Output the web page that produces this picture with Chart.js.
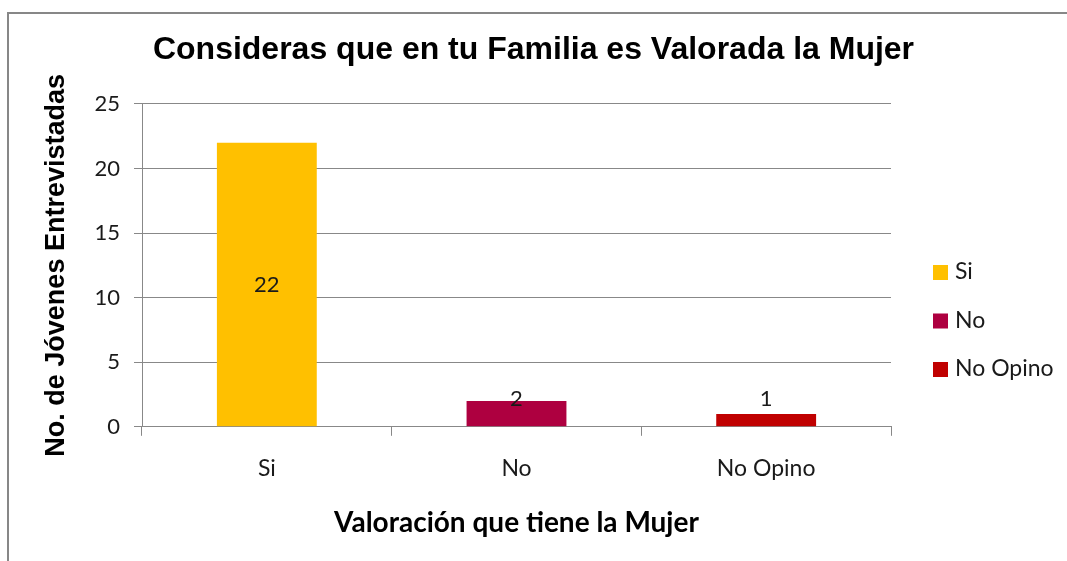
<!DOCTYPE html>
<html>
<head>
<meta charset="utf-8">
<script src="https://cdn.jsdelivr.net/npm/chart.js@4"></script>
<style>
  html, body { margin: 0; padding: 0; background: #fff; }
  #wrap { width: 1067px; height: 561px; }
</style>
</head>
<body>
<div id="wrap"><canvas id="grafico"></canvas></div>
<script>
// datos del grafico
const categorias = ['Si', 'No', 'No Opino'];
const valores = [22, 2, 1];
const colores = ['#FFC000', '#AE0040', '#C00000'];
const marcasY = [0, 5, 10, 15, 20, 25];

const fontTexto = "Lato, 'Open Sans', sans-serif";
const fontArial = "'Liberation Sans', Arial, sans-serif";

// marco gris del grafico
const marco = {
    id: 'marco',
    beforeDraw(chart) {
        const ctx = chart.ctx;
        ctx.save();
        ctx.strokeStyle = '#878787';
        ctx.lineWidth = 2;
        ctx.beginPath();
        ctx.moveTo(8, chart.height + 2);
        ctx.lineTo(8, 13);
        ctx.lineTo(chart.width + 2, 13);
        ctx.stroke();
        ctx.restore();
    }
};

// etiquetas de valor dentro de las barras
const etiquetas = {
    id: 'etiquetas',
    afterDatasetsDraw(chart) {
        const ctx = chart.ctx;
        const meta = chart.getDatasetMeta(0);
        ctx.save();
        ctx.font = '22px ' + fontTexto;
        ctx.fillStyle = '#1a1a1a';
        ctx.textAlign = 'center';
        ctx.textBaseline = 'middle';
        meta.data.forEach((bar, i) => {
            const centro = (bar.y + bar.base) / 2;
            const y = Math.min(centro, bar.base - 27);
            ctx.fillText(String(valores[i]), bar.x, y);
        });
        ctx.restore();
    }
};

// leyenda a la derecha, como caja del layout
const leyenda = {
    id: 'leyenda',
    beforeInit(chart) {
        const caja = {
            position: 'right',
            weight: 1000,
            fullSize: true,
            options: {},
            left: 0, top: 0, right: 0, bottom: 0, width: 0, height: 0,
            isHorizontal() { return false; },
            update(maxWidth, maxHeight) {
                this.width = 136;
                this.height = maxHeight;
            },
            draw() {
                const ctx = chart.ctx;
                const x = this.left + 42;
                ctx.save();
                ctx.font = '23px ' + fontTexto;
                ctx.textBaseline = 'middle';
                ctx.textAlign = 'left';
                categorias.forEach((cat, i) => {
                    const y = 272 + i * 48.5;
                    ctx.fillStyle = colores[i];
                    ctx.fillRect(x, y - 7, 15, 15);
                    ctx.fillStyle = '#1a1a1a';
                    ctx.fillText(cat, x + 22, y);
                });
                ctx.restore();
            }
        };
        Chart.layouts.addBox(chart, caja);
    }
};

new Chart(document.getElementById('grafico'), {
    type: 'bar',
    data: {
        labels: categorias,
        datasets: [{
            label: 'Valoración',
            data: valores,
            backgroundColor: colores,
            borderWidth: 0,
            barPercentage: 0.4,
            categoryPercentage: 1
        }]
    },
    options: {
        responsive: true,
        maintainAspectRatio: false,
        animation: false,
        layout: {
            padding: { left: 40, right: 40, top: 18, bottom: 21 }
        },
        plugins: {
            legend: { display: false },
            tooltip: { enabled: false },
            title: {
                display: true,
                text: 'Consideras que en tu Familia es Valorada la Mujer',
                color: '#000',
                font: { family: fontArial, size: 32, weight: 'bold' },
                padding: { top: 13, bottom: 34.5 }
            }
        },
        scales: {
            x: {
                grid: {
                    offset: true,
                    drawOnChartArea: false,
                    drawTicks: true,
                    tickLength: 9,
                    color: '#888'
                },
                border: { color: '#888' },
                ticks: {
                    color: '#1a1a1a',
                    padding: 19,
                    font: { family: fontTexto, size: 23 }
                },
                title: {
                    display: true,
                    text: 'Valoración que tiene la Mujer',
                    color: '#000',
                    font: { family: fontTexto, size: 28, weight: 'bold' },
                    padding: { top: 5, bottom: 0 }
                }
            },
            y: {
                min: 0,
                max: 25,
                afterBuildTicks(scale) {
                    scale.ticks = marcasY.map(v => ({ value: v }));
                },
                afterFit(scale) {
                    scale.width = 102;
                },
                grid: {
                    color: '#888',
                    tickLength: 8
                },
                border: { color: '#888' },
                ticks: {
                    color: '#1a1a1a',
                    padding: 14,
                    font: { family: fontTexto, size: 22 }
                },
                title: {
                    display: true,
                    text: 'No. de Jóvenes Entrevistadas',
                    color: '#000',
                    font: { family: fontArial, size: 27, weight: 'bold' },
                    padding: { top: 0, bottom: 0 }
                }
            }
        }
    },
    plugins: [marco, etiquetas, leyenda]
});
</script>
</body>
</html>
